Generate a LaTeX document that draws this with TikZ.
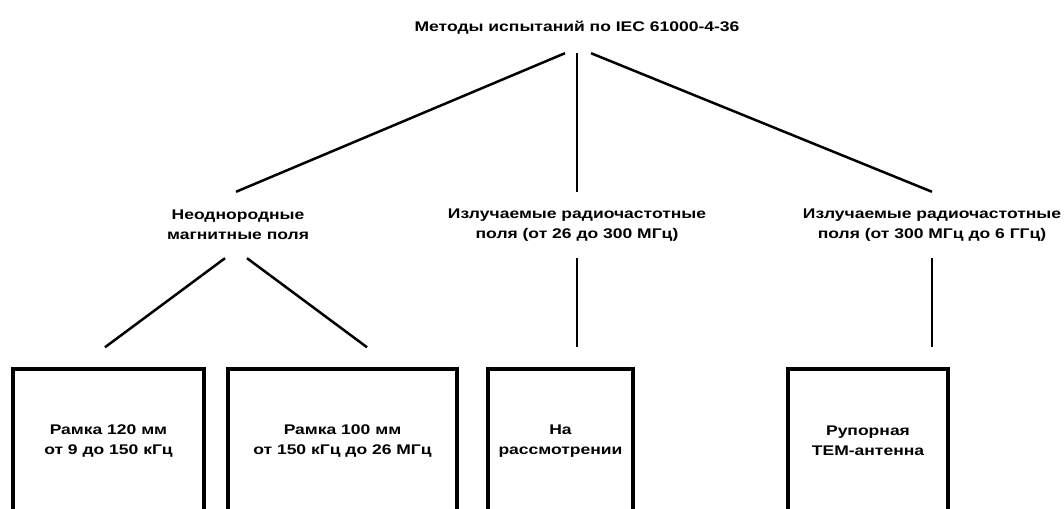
\documentclass[tikz,border=0pt]{standalone}
\usepackage{fontspec}
\newfontfamily\diagfont{Liberation Sans}[FakeStretch=1.25]
\usetikzlibrary{calc}
\begin{document}
\begin{tikzpicture}[x=1pt,y=-1pt,
  lbl/.style={font=\diagfont\bfseries\fontsize{14}{20}\selectfont,align=center,inner sep=0pt},
  boxnode/.style={lbl,draw,line width=3.5pt,minimum height=144pt},
  thick line/.style={line width=2.5pt},
  thin line/.style={line width=1.3pt}]
\clip (0,0) rectangle (1064,508);
\fill[white] (0,0) rectangle (1064,508);
\node[lbl,minimum height=50pt] (title) at (577,28) {Методы испытаний по IEC 61000-4-36};
\node[lbl,minimum height=66pt] (mid1) at (238,225) {Неоднородные\\магнитные поля};
\node[lbl,minimum height=66pt] (mid2) at (577,225) {Излучаемые радиочастотные\\поля (от 26 до 300 МГц)};
\node[lbl,minimum height=66pt] (mid3) at (932,225) {Излучаемые радиочастотные\\поля (от 300 МГц до 6 ГГц)};
\node[boxnode,minimum width=191pt] (b1) at (108.5,441) {Рамка 120 мм\\от 9 до 150 кГц};
\node[boxnode,minimum width=229pt] (b2) at (342.5,441) {Рамка 100 мм\\от 150 кГц до 26 МГц};
\node[boxnode,minimum width=145pt] (b3) at (560.5,441) {На\\рассмотрении};
\node[boxnode,minimum width=160pt] (b4) at (868,441) {Рупорная\\ТЕМ-антенна};
\draw[thick line] ([xshift=-12pt]title.south) -- ([xshift=-2pt]mid1.north);
\draw[thin line] (title.south) -- (mid2.north);
\draw[thick line] ([xshift=14pt]title.south) -- (mid3.north);
\draw[thick line] ([xshift=-13pt]mid1.south) -- ([xshift=-3.5pt,yshift=20pt]b1.north);
\draw[thick line] ([xshift=9pt]mid1.south) -- ([xshift=24.5pt,yshift=20pt]b2.north);
\draw[thin line] (mid2.south) -- ($(mid2.south |- b3.north)+(0,-20)$);
\draw[thick line] (mid3.south) -- ($(mid3.south |- b4.north)+(0,-20)$);
\end{tikzpicture}
\end{document}
